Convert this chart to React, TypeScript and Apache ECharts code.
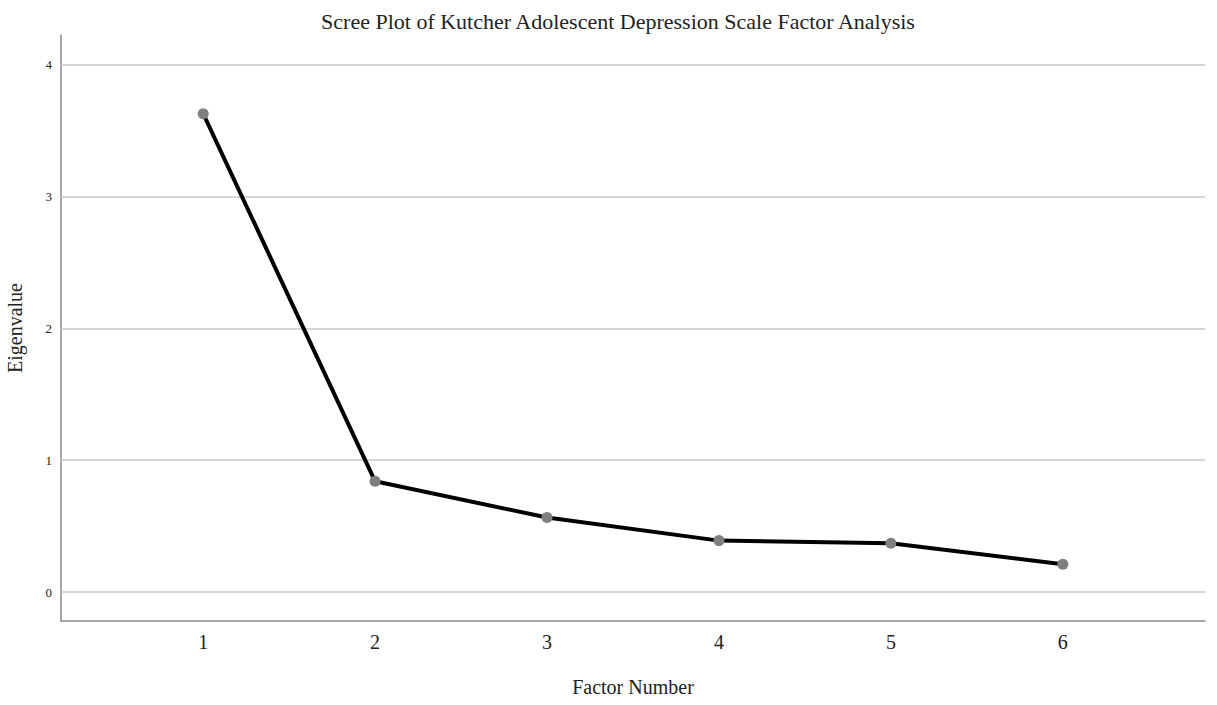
import React, { useEffect, useRef } from "react";
import * as echarts from "echarts";

const factors = [1, 2, 3, 4, 5, 6];
const eigenvalues = [3.63, 0.84, 0.565, 0.39, 0.37, 0.21];
const yTicks = [0, 1, 2, 3, 4];

const serif = "Liberation Serif";

export default function App() {
  const ref = useRef<HTMLDivElement>(null);
  useEffect(() => {
    if (!ref.current) return;
    const chart = echarts.init(ref.current, null, { renderer: "svg" });
    chart.setOption({
      animation: false,
      backgroundColor: "#ffffff",
      title: {
        text: "Scree Plot of Kutcher Adolescent Depression Scale Factor Analysis",
        left: 613,
        textAlign: "center",
        top: 5,
        textStyle: { fontFamily: serif, fontSize: 22, fontWeight: "normal", color: "#222" },
      },
      grid: { left: 61, right: 12, top: 35, bottom: 84, outerBoundsMode: "none", containLabel: false },
      xAxis: {
        type: "value",
        min: 0.173,
        max: 6.827,
        splitNumber: 6,
        name: "Factor Number",
        nameLocation: "middle",
        nameGap: 56,
        nameTextStyle: { fontFamily: serif, fontSize: 20, color: "#222" },
        axisLine: { show: true, onZero: false, lineStyle: { color: "#8a8a8a", width: 1.5 } },
        axisTick: { show: false },
        splitLine: { show: false },
        axisLabel: {
          fontFamily: serif,
          fontSize: 20,
          color: "#222",
          margin: 11,
          showMinLabel: false,
          showMaxLabel: false,
          formatter: (v: number) => (factors.includes(v) ? String(v) : ""),
        },
      },
      yAxis: {
        type: "value",
        min: -0.22,
        max: 4.227,
        name: "Eigenvalue",
        nameLocation: "middle",
        nameRotate: 90,
        nameGap: 36,
        nameTextStyle: { fontFamily: serif, fontSize: 20, color: "#222" },
        axisLine: { show: true, lineStyle: { color: "#8a8a8a", width: 1.5 } },
        axisTick: { show: false },
        splitLine: { show: false },
        axisLabel: {
          fontFamily: serif,
          fontSize: 13,
          color: "#222",
          margin: 9,
          showMinLabel: false,
          showMaxLabel: false,
          formatter: (v: number) => (yTicks.includes(v) ? String(v) : ""),
        },
      },
      series: [
        {
          type: "line",
          data: factors.map((f, i) => [f, eigenvalues[i]]),
          lineStyle: { color: "#000", width: 4 },
          symbol: "circle",
          symbolSize: 11,
          itemStyle: { color: "#7f7f7f" },
          z: 3,
          markLine: {
            silent: true,
            symbol: "none",
            label: { show: false },
            lineStyle: { color: "#c8c8c8", width: 1.5, type: "solid" },
            data: yTicks.map((t) => ({ yAxis: t })),
            z: 1,
          },
        },
      ],
    });
    return () => chart.dispose();
  }, []);
  return (
    <div
      ref={ref}
      style={{ position: "fixed", left: 0, top: 0, width: 1217, height: 705, background: "#fff" }}
    />
  );
}
